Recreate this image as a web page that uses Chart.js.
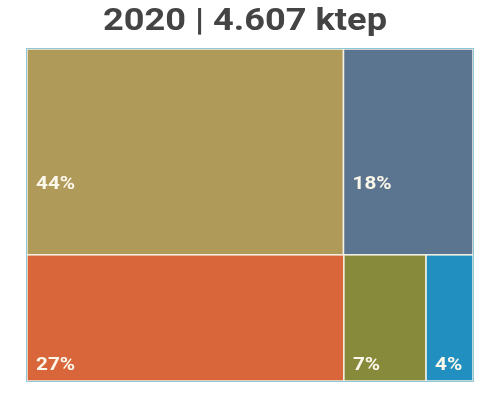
<!DOCTYPE html>
<html>
<head>
<meta charset="utf-8">
<script src="https://cdn.jsdelivr.net/npm/chart.js@4/dist/chart.umd.min.js"></script>
<style>
  body { margin: 0; background: #fff; }
  #wrap { width: 481px; height: 414px; }
</style>
</head>
<body>
<div id="wrap"><canvas id="grafic"></canvas></div>
<script>
var titol = '2020 | 4.607 ktep';
var valors = [44, 18, 27, 7, 4];           // percentatges
var colors = ['#b09a5a', '#5b7590', '#d8663a', '#868a3a', '#2190c0'];
var files = [[0, 1], [2, 3, 4]];            // quines caselles van a cada fila

var FONT = 'Roboto, "Liberation Sans", sans-serif';

// plugin que dibuixa el treemap fent servir les escales x / y (0..100)
var treemapPlugin = {
    id: 'treemap',
    beforeDatasetsDraw: function(chart, args, opts) {
        var ctx = chart.ctx;
        var sx = chart.scales.x;
        var sy = chart.scales.y;
        var total = 0;
        for (var i = 0; i < valors.length; i++) total += valors[i];

        var yTop = 100;
        for (var f = 0; f < files.length; f++) {
            var fila = files[f];
            var sumaFila = 0;
            for (var j = 0; j < fila.length; j++) sumaFila += valors[fila[j]];
            var yBot = yTop - sumaFila / total * 100;
            var xEsq = 0;
            for (var k = 0; k < fila.length; k++) {
                var idx = fila[k];
                var xDre = xEsq + valors[idx] / sumaFila * 100;
                var x0 = sx.getPixelForValue(xEsq);
                var x1 = sx.getPixelForValue(xDre);
                var y0 = sy.getPixelForValue(yTop);
                var y1 = sy.getPixelForValue(yBot);
                ctx.fillStyle = colors[idx];
                ctx.fillRect(x0, y0, x1 - x0, y1 - y0);
                ctx.strokeStyle = '#f4f1e4';
                ctx.lineWidth = 1.5;
                ctx.strokeRect(x0, y0, x1 - x0, y1 - y0);

                // etiqueta, una mica eixamplada com a la imatge
                ctx.save();
                ctx.translate(x0 + 9, y0 + (y1 - y0) * opts.posEtiqueta[f]);
                ctx.scale(1.15, 1);
                ctx.fillStyle = '#fbf7ea';
                ctx.font = 'bold 18px ' + FONT;
                ctx.textBaseline = 'middle';
                ctx.textAlign = 'left';
                ctx.fillText(valors[idx] + '%', 0, 0);
                ctx.restore();
                xEsq = xDre;
            }
            yTop = yBot;
        }
        // vora exterior
        var a = chart.chartArea;
        ctx.strokeStyle = '#8fc6d8';
        ctx.lineWidth = 1;
        ctx.strokeRect(a.left - 0.5, a.top - 0.5, a.right - a.left + 1, a.bottom - a.top + 1);
    },
    afterDraw: function(chart, args, opts) {
        // títol (eixamplat horitzontalment)
        var ctx = chart.ctx;
        ctx.save();
        ctx.translate(245, 22);
        ctx.scale(1.13, 1);
        ctx.fillStyle = '#444444';
        ctx.font = 'bold 32px ' + FONT;
        ctx.textAlign = 'center';
        ctx.textBaseline = 'middle';
        ctx.fillText(titol, 0, 0);
        ctx.restore();
    }
};

var ctx = document.getElementById('grafic').getContext('2d');
var grafic = new Chart(ctx, {
    type: 'scatter',
    data: { datasets: [{ data: [] }] },
    options: {
        responsive: true,
        maintainAspectRatio: false,
        animation: false,
        layout: { padding: { left: 27, right: 8, top: 49, bottom: 33 } },
        scales: {
            x: { display: false, min: 0, max: 100 },
            y: { display: false, min: 0, max: 100 }
        },
        plugins: {
            legend: { display: false },
            tooltip: { enabled: false },
            title: { display: false },
            treemap: { posEtiqueta: [0.66, 0.88] }
        }
    },
    plugins: [treemapPlugin]
});
</script>
</body>
</html>
